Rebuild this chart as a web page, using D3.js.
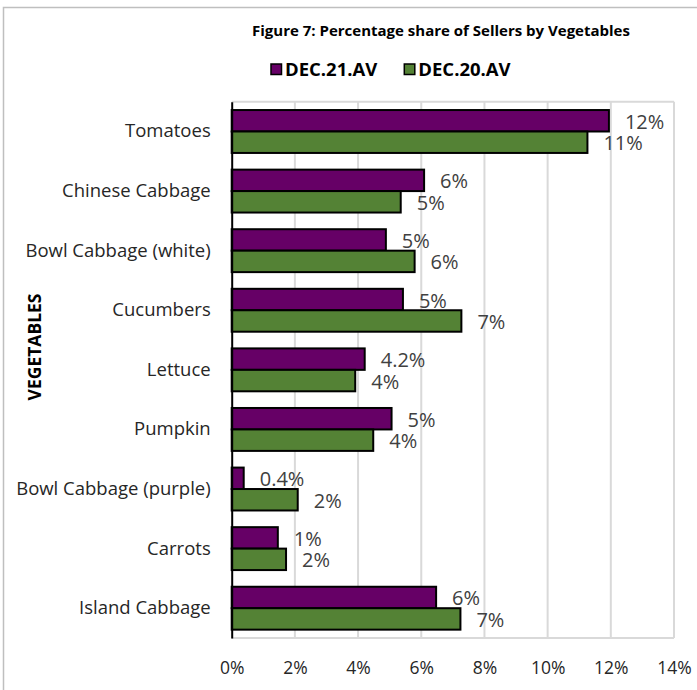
<!DOCTYPE html>
<html>
<head>
<meta charset="utf-8">
<script src="https://cdn.jsdelivr.net/npm/d3@7"></script>
<style>
  body { margin: 0; background: #fff; }
  svg { display: block; }
</style>
</head>
<body>
<svg id="chart" width="697" height="690"></svg>
<script>
const categories = ["Tomatoes", "Chinese Cabbage", "Bowl Cabbage (white)", "Cucumbers", "Lettuce", "Pumpkin", "Bowl Cabbage (purple)", "Carrots", "Island Cabbage"];
const seriesNames = ["DEC.21.AV", "DEC.20.AV"];
const dec21 = [0.1194, 0.0609, 0.0488, 0.0542, 0.0421, 0.0506, 0.0038, 0.0146, 0.0647];
const dec20 = [0.1126, 0.0535, 0.0579, 0.0727, 0.0391, 0.0448, 0.0209, 0.0172, 0.0724];
const dec21Decimals = [0, 0, 0, 0, 1, 0, 1, 0, 0];
const dec20Decimals = [0, 0, 0, 0, 0, 0, 0, 0, 0];
const xTicks = [0, 0.02, 0.04, 0.06, 0.08, 0.10, 0.12, 0.14];
const colors = ["#660066", "#548235"];
const titleText = "Figure 7: Percentage share of Sellers by Vegetables";
const yTitle = "VEGETABLES";

const svg = d3.select("#chart");
const font = "'Open Sans', 'Noto Sans', sans-serif";
const plot = { left: 231.7, right: 674, top: 101.7, bottom: 638 };

// chart border (left and top visible)
svg.append("path").attr("d", "M3.5,690 L3.5,7.5 L697,7.5")
  .attr("fill", "none").attr("stroke", "#bfbfbf").attr("stroke-width", 1.5);

const x = d3.scaleLinear().domain([0, 0.14]).range([plot.left, plot.right]);
const y = d3.scaleBand().domain(categories).range([plot.top, plot.bottom])
  .paddingInner(0.28).paddingOuter(0.14);
const ySub = d3.scaleBand().domain(seriesNames).range([0, y.bandwidth()]);

// gridlines
svg.append("g").selectAll("line").data(xTicks.slice(1)).join("line")
  .attr("x1", d => x(d)).attr("x2", d => x(d))
  .attr("y1", plot.top).attr("y2", plot.bottom)
  .attr("stroke", "#d9d9d9").attr("stroke-width", 2);
svg.append("line").attr("x1", plot.left).attr("x2", plot.right)
  .attr("y1", plot.top).attr("y2", plot.top).attr("stroke", "#d9d9d9").attr("stroke-width", 2);
svg.append("line").attr("x1", plot.left).attr("x2", plot.right)
  .attr("y1", plot.bottom).attr("y2", plot.bottom).attr("stroke", "#d9d9d9").attr("stroke-width", 2);

// x axis labels
const xAxis = d3.axisBottom(x).tickValues(xTicks).tickFormat(d3.format(".0%")).tickSize(0).tickPadding(0);
const gx = svg.append("g").attr("transform", `translate(0,${plot.bottom})`).call(xAxis);
gx.select(".domain").remove();
gx.selectAll("text").attr("font-family", font).attr("font-size", 17.5).attr("fill", "#262626")
  .attr("dy", null).attr("y", 36);

// bars
const data = categories.map((c, i) => ({ cat: c, vals: [
  { s: seriesNames[0], v: dec21[i], dec: dec21Decimals[i] },
  { s: seriesNames[1], v: dec20[i], dec: dec20Decimals[i] }
]}));

const groups = svg.append("g").selectAll("g").data(data).join("g")
  .attr("transform", d => `translate(0,${y(d.cat)})`);
groups.selectAll("rect").data(d => d.vals).join("rect")
  .attr("x", x(0)).attr("y", d => ySub(d.s))
  .attr("width", d => x(d.v) - x(0)).attr("height", ySub.bandwidth())
  .attr("fill", (d, i) => colors[i]).attr("stroke", "#000").attr("stroke-width", 2);
groups.selectAll("text").data(d => d.vals).join("text")
  .attr("x", d => x(d.v) + 16).attr("y", d => ySub(d.s) + ySub.bandwidth() / 2 + 1)
  .attr("dy", "0.35em")
  .attr("font-family", font).attr("font-size", 20).attr("fill", "#404040")
  .text(d => d3.format("." + d.dec + "%")(d.v));

// y axis
const yAxis = d3.axisLeft(y).tickSize(0).tickPadding(21);
const gy = svg.append("g").attr("transform", `translate(${plot.left},0)`).call(yAxis);
gy.select(".domain").attr("stroke", "#000").attr("stroke-width", 2);
gy.selectAll("text").attr("font-family", font).attr("font-size", 18.5).attr("fill", "#262626");

// y title
svg.append("text").attr("transform", "translate(35,347) rotate(-90)")
  .attr("text-anchor", "middle").attr("dy", "0.35em")
  .attr("font-family", font).attr("font-size", 17.5).attr("font-weight", "bold").attr("fill", "#000")
  .text(yTitle);

// title
svg.append("text").attr("x", 441).attr("y", 36).attr("text-anchor", "middle")
  .attr("font-family", font).attr("font-size", 15).attr("font-weight", "bold").attr("fill", "#000")
  .text(titleText);

// legend
const legendX = [270, 403.3];
const lg = svg.append("g").selectAll("g").data(seriesNames).join("g")
  .attr("transform", (d, i) => `translate(${legendX[i]},63)`);
lg.append("rect").attr("x", 1).attr("y", 1).attr("width", 10.5).attr("height", 10.5)
  .attr("fill", (d, i) => colors[i]).attr("stroke", "#000").attr("stroke-width", 1.5);
lg.append("text").attr("x", 15).attr("y", 12.5)
  .attr("font-family", font).attr("font-size", 18.5).attr("font-weight", "bold").attr("fill", "#000")
  .text(d => d);
</script>
</body>
</html>
